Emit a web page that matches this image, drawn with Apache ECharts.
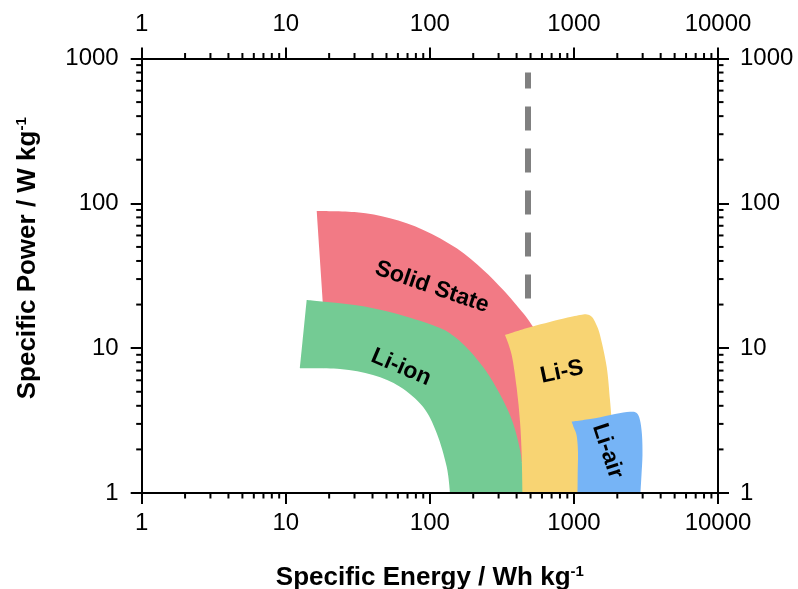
<!DOCTYPE html>
<html>
<head>
<meta charset="utf-8">
<script src="https://cdn.jsdelivr.net/npm/echarts@6/dist/echarts.min.js"></script>
<style>
  html, body { margin: 0; padding: 0; background: #fff; }
  #chart { width: 798px; height: 589px; }
</style>
</head>
<body>
<div id="chart"></div>
<script>
// Ragone plot: specific energy (Wh/kg) vs specific power (W/kg), log-log.
const xTickLabels = [1, 10, 100, 1000, 10000];
const yTickLabels = [1, 10, 100, 1000];
const xMinorTicks = [2, 3, 4, 5, 6, 7, 8, 9, 20, 30, 40, 50, 60, 70, 80, 90,
  200, 300, 400, 500, 600, 700, 800, 900, 2000, 3000, 4000, 5000, 6000, 7000, 8000, 9000];
const yMinorTicks = [2, 3, 4, 5, 6, 7, 8, 9, 20, 30, 40, 50, 60, 70, 80, 90,
  200, 300, 400, 500, 600, 700, 800, 900];

// Outline of each technology region as [energy, power] vertices
const solidState = [
  [16.4, 88.5], [31.1, 86.7], [52.9, 78.8], [90.1, 65.5], [153.6, 48.9],
  [234.9, 34.7], [323.3, 25.2], [445.2, 17.4], [536.6, 13.4], [563, 4.39],
  [495.5, 1.64], [332.3, 1.64], [222.8, 5.14], [117.6, 10.5], [45.1, 15.6],
  [17.8, 18.3], [18.1, 20.8]
];
const liIon = [
  [13.97, 21.5], [23.8, 20.4], [40.3, 18.9], [69.1, 16.5], [117.6, 13.8],
  [149.4, 11.94], [183.9, 9.87], [222.8, 7.90], [261.5, 6.32], [321.8, 4.39],
  [377.6, 3.04], [422.5, 1.98], [443.1, 1.37], [446.6, 1], [138, 1],
  [130.9, 1.52], [111.5, 2.60], [89.6, 3.94], [62.0, 5.42], [40.3, 6.53],
  [23.8, 7.18], [12.55, 7.26]
];
const liS = [
  [332.3, 12.33], [480, 13.85], [822.4, 15.9], [1102, 16.94], [1232, 17.08],
  [1335, 16.41], [1423, 14.69], [1517, 12.33], [1688, 7.45], [1780, 4.39],
  [1838, 2.95], [1517, 1], [439.5, 1], [434, 1.83], [422.5, 3.11],
  [400.6, 5.31], [369.8, 8.97]
];
const liAir = [
  [965, 3.11], [1401, 3.28], [1928, 3.51], [2449, 3.64], [2727, 3.57],
  [2874, 3.19], [2968, 2.51], [2991, 1.83], [2944, 1.33], [2897, 1],
  [1059, 1], [1062, 1.37], [1067, 1.92], [1045, 2.48], [1001, 2.81]
];
// Practical energy-density ceiling marker
const limitLine = [[480, 22], [480, 800]];

const FONT = 'Liberation Sans, Arial, Helvetica, sans-serif';

// corners: vertex indices drawn as sharp corners; all other vertices are joined by smooth curves
const regions = [
  { name: 'Solid State', pts: solidState, corners: [0, 8, 9, 10, 11, 12, 13, 14, 15, 16],
    color: '#F27A85', at: [103.5, 26.4], angle: -19 },
  { name: 'Li-ion', pts: liIon, corners: [0, 13, 14, 21],
    color: '#74CB94', at: [63.2, 7.36], angle: -23 },
  { name: 'Li-S', pts: liS, corners: [0, 10, 11, 12],
    color: '#F8D473', at: [826, 6.85], angle: 12 },
  { name: 'Li-air', pts: liAir, corners: [0, 9, 10],
    color: '#76B4F6', at: [1710, 1.95], angle: -72 }
];

// Closed outline through the projected vertices using cubic Hermite segments.
function outlinePath(p, corners) {
  const n = p.length;
  const isCorner = new Array(n).fill(false);
  corners.forEach(function (i) { isCorner[i] = true; });
  const tan = p.map(function (pt, i) {
    if (isCorner[i]) return [0, 0];
    const a = p[(i - 1 + n) % n], b = p[(i + 1) % n];
    return [(b[0] - a[0]) / 2, (b[1] - a[1]) / 2];
  });
  let d = 'M' + p[0][0].toFixed(2) + ' ' + p[0][1].toFixed(2);
  for (let i = 0; i < n; i++) {
    const j = (i + 1) % n;
    const c1 = [p[i][0] + tan[i][0] / 3, p[i][1] + tan[i][1] / 3];
    const c2 = [p[j][0] - tan[j][0] / 3, p[j][1] - tan[j][1] / 3];
    d += ' C' + c1[0].toFixed(2) + ' ' + c1[1].toFixed(2) + ' ' +
      c2[0].toFixed(2) + ' ' + c2[1].toFixed(2) + ' ' +
      p[j][0].toFixed(2) + ' ' + p[j][1].toFixed(2);
  }
  return d + ' Z';
}

function regionSeries(r) {
  return {
    type: 'custom',
    name: r.name,
    coordinateSystem: 'cartesian2d',
    clip: true,
    z: 2,
    silent: true,
    data: r.pts,
    renderItem: function (params, api) {
      if (params.dataIndex !== 0) return null;
      const pts = r.pts.map(function (p) { return api.coord(p); });
      const c = api.coord(r.at);
      return {
        type: 'group',
        children: [
          { type: 'path', shape: { pathData: outlinePath(pts, r.corners) }, style: { fill: r.color } },
          {
            type: 'text', x: c[0], y: c[1], rotation: r.angle * Math.PI / 180,
            style: {
              text: r.name, fill: '#000', fontSize: 23, fontWeight: 'bold',
              fontFamily: FONT, align: 'center', verticalAlign: 'middle'
            }
          }
        ]
      };
    }
  };
}

const X_MIN = 1, X_MAX = 10000, Y_MIN = 1, Y_MAX = 1000;
const MINOR_LEN = 5.5;

function minorTickSeries(values, isX) {
  return {
    type: 'custom',
    coordinateSystem: 'cartesian2d',
    clip: false,
    silent: true,
    z: 10,
    data: values.map(function (v) { return isX ? [v, Y_MIN] : [X_MIN, v]; }),
    renderItem: function (params, api) {
      const v = isX ? api.value(0) : api.value(1);
      const st = { stroke: '#000', lineWidth: 2 };
      if (isX) {
        const b = api.coord([v, Y_MIN]);
        const t = api.coord([v, Y_MAX]);
        return { type: 'group', children: [
          { type: 'line', shape: { x1: b[0], y1: b[1], x2: b[0], y2: b[1] + MINOR_LEN }, style: st },
          { type: 'line', shape: { x1: t[0], y1: t[1], x2: t[0], y2: t[1] - MINOR_LEN }, style: st }
        ] };
      }
      const l = api.coord([X_MIN, v]);
      const r = api.coord([X_MAX, v]);
      return { type: 'group', children: [
        { type: 'line', shape: { x1: l[0], y1: l[1], x2: l[0] - MINOR_LEN, y2: l[1] }, style: st },
        { type: 'line', shape: { x1: r[0], y1: r[1], x2: r[0] + MINOR_LEN, y2: r[1] }, style: st }
      ] };
    }
  };
}

function fmt(v) { return String(Math.round(v)); }

function axisBase(extra) {
  return Object.assign({
    type: 'log',
    logBase: 10,
    z: 10,
    axisLine: { show: true, onZero: false, lineStyle: { color: '#000', width: 2 } },
    axisTick: { show: true, inside: false, length: 11, lineStyle: { color: '#000', width: 2 } },
    splitLine: { show: false },
    minorTick: { show: false },
    axisLabel: { color: '#000', fontSize: 24, fontFamily: FONT, formatter: fmt }
  }, extra);
}

const titleRich = {
  sup: { fontSize: 15, fontWeight: 'bold', fontFamily: FONT, color: '#000', verticalAlign: 'top', padding: [0, 0, 12, 0] }
};

const chart = echarts.init(document.getElementById('chart'), null, { renderer: 'canvas' });
chart.setOption({
  animation: false,
  backgroundColor: '#fff',
  grid: { left: 141.7, right: 80, top: 58.5, bottom: 96, containLabel: false, outerBoundsMode: 'none' },
  xAxis: [
    axisBase({
      position: 'bottom', min: X_MIN, max: X_MAX,
      axisLabel: { color: '#000', fontSize: 24, fontFamily: FONT, formatter: fmt, margin: 18 },
      name: 'Specific Energy / Wh kg{sup|-1}',
      nameLocation: 'middle', nameGap: 71,
      nameTextStyle: { fontSize: 26, fontWeight: 'bold', color: '#000', fontFamily: FONT, rich: titleRich }
    }),
    axisBase({
      position: 'top', min: X_MIN, max: X_MAX,
      axisLabel: { color: '#000', fontSize: 24, fontFamily: FONT, formatter: fmt, margin: 22 }
    })
  ],
  yAxis: [
    axisBase({
      position: 'left', min: Y_MIN, max: Y_MAX,
      axisLabel: { color: '#000', fontSize: 24, fontFamily: FONT, formatter: fmt, margin: 23 },
      name: 'Specific Power / W kg{sup|-1}',
      nameLocation: 'middle', nameGap: 100,
      nameTextStyle: { fontSize: 26, fontWeight: 'bold', color: '#000', fontFamily: FONT, rich: titleRich, padding: [0, 0, 0, 35] }
    }),
    axisBase({
      position: 'right', min: Y_MIN, max: Y_MAX,
      axisLabel: { color: '#000', fontSize: 24, fontFamily: FONT, formatter: fmt, margin: 22 }
    })
  ],
  series: regions.map(regionSeries).concat([
    {
      type: 'line',
      data: limitLine,
      symbol: 'none',
      silent: true,
      z: 3,
      lineStyle: { color: '#808080', width: 6, type: [24, 18], cap: 'butt' }
    },
    minorTickSeries(xMinorTicks, true),
    minorTickSeries(yMinorTicks, false)
  ])
});
</script>
</body>
</html>
